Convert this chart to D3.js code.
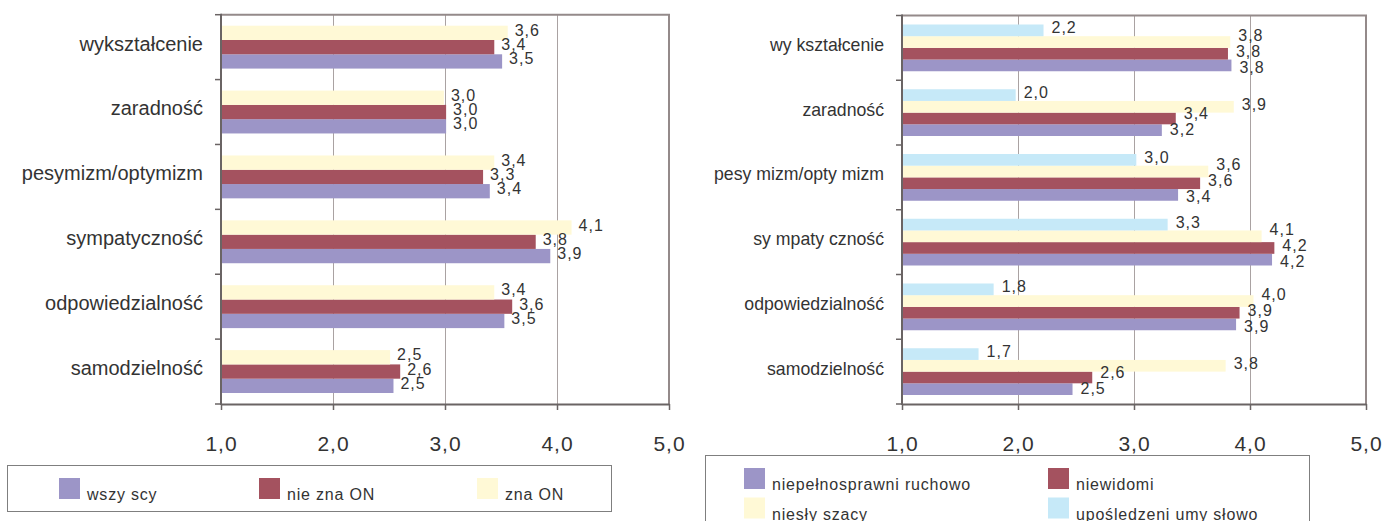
<!DOCTYPE html>
<html><head><meta charset="utf-8">
<script src="https://cdn.jsdelivr.net/npm/d3@7"></script>
<style>
body{margin:0;background:#fff}
svg{display:block}
text{font-family:"Liberation Sans",Arial,Helvetica,sans-serif;fill:#333}
</style>
</head><body>
<svg id="c" width="1387" height="521"></svg>
<script>
// ---------- data ----------
const categoriesLeft = ["wykształcenie","zaradność","pesymizm/optymizm","sympatyczność","odpowiedzialność","samodzielność"];
const seriesLeft = ["wszy scy","nie zna ON","zna ON"];
const wszyscy  = [3.51, 3.01, 3.40, 3.94, 3.53, 2.54];
const nieZnaON = [3.44, 3.01, 3.34, 3.81, 3.60, 2.60];
const znaON    = [3.56, 2.99, 3.44, 4.13, 3.44, 2.51];

const categoriesRight = ["wy kształcenie","zaradność","pesy mizm/opty mizm","sy mpaty czność","odpowiedzialność","samodzielność"];
const seriesRight = ["niepełnosprawni ruchowo","niewidomi","niesły szacy","upośledzeni umy słowo"];
const ruchowo     = [3.84, 3.24, 3.38, 4.19, 3.88, 2.47];
const niewidomi   = [3.81, 3.36, 3.57, 4.21, 3.91, 2.64];
const nieslyszacy = [3.83, 3.86, 3.64, 4.10, 4.03, 3.79];
const umyslowo    = [2.22, 1.98, 3.02, 3.29, 1.79, 1.66];

const xTicks = [1, 2, 3, 4, 5];
const xTickLabels = ["1,0", "2,0", "3,0", "4,0", "5,0"];
const colors = ["#9c95c7", "#a4525f", "#fff9d6", "#c6e9f8"];

const fmt = v => d3.format(".1f")(v).replace(".", ",");
const svg = d3.select("#c");

function drawChart(cfg) {
  const g = svg.append("g");
  const x = d3.scaleLinear().domain([1, 5]).range([cfg.x0, cfg.x1]);
  const y = d3.scaleBand().domain(cfg.categories).range([cfg.y0, cfg.y1]);
  const order = cfg.values.map((v, i) => i).reverse(); // top-to-bottom in each group
  const inner = d3.scaleBand().domain(order).range([0, y.bandwidth()]).paddingInner(0).paddingOuter(0.77);

  // gridlines
  g.selectAll(".grid").data(xTicks.filter(t => t > 1 && t < 5)).join("line")
    .attr("x1", d => Math.round(x(d)) + 0.5).attr("x2", d => Math.round(x(d)) + 0.5)
    .attr("y1", cfg.y0).attr("y2", cfg.y1)
    .attr("stroke", "#aaa2a2").attr("stroke-width", 1);

  // bars
  const bars = [];
  cfg.categories.forEach((c, ci) => {
    cfg.values.forEach((arr, si) => {
      bars.push({c, ci, si, v: arr[ci]});
    });
  });
  g.selectAll(".bar").data(bars).join("rect")
    .attr("x", x(1)).attr("y", d => y(d.c) + inner(d.si))
    .attr("width", d => x(d.v) - x(1)).attr("height", inner.bandwidth())
    .attr("fill", d => colors[d.si]);

  // value labels with simple overlap relaxation
  const labels = bars.map(d => ({
    ...d,
    lx: x(d.v) + cfg.labelGap,
    by: y(d.c) + inner(d.si) + inner.bandwidth() / 2 + 3,
    w: 26
  }));
  cfg.categories.forEach(c => {
    const ls = labels.filter(l => l.c === c).sort((a, b) => a.by - b.by);
    for (let it = 0; it < 60; it++) {
      for (let i = 0; i < ls.length; i++) for (let j = i + 1; j < ls.length; j++) {
        const a = ls[i], b = ls[j];
        const xo = a.lx < b.lx + b.w && b.lx < a.lx + a.w;
        const dy = b.by - a.by;
        if (xo && dy < cfg.minGap) {
          const push = (cfg.minGap - dy) / 2;
          a.by -= push; b.by += push;
        }
      }
    }
  });
  g.selectAll(".val").data(labels).join("text")
    .attr("x", d => d.lx).attr("y", d => d.by)
    .style("font-size", "16px").style("letter-spacing", "1px")
    .text(d => fmt(d.v));

  // top & right border
  g.append("path")
    .attr("d", `M${cfg.x0},${cfg.y0}H${cfg.x1}V${cfg.y1}`)
    .attr("fill", "none").attr("stroke", "#948a8a").attr("stroke-width", 2);

  // left category axis
  const bounds = cfg.categories.map(c => y(c)).concat([cfg.y1]);
  g.append("line").attr("x1", cfg.x0).attr("x2", cfg.x0).attr("y1", cfg.y0 - 1).attr("y2", cfg.y1 + 1)
    .attr("stroke", "#6a6464").attr("stroke-width", 2);
  g.selectAll(".ctick").data(bounds).join("line")
    .attr("x1", cfg.x0 - 6).attr("x2", cfg.x0).attr("y1", d => d).attr("y2", d => d)
    .attr("stroke", "#6a6464").attr("stroke-width", 1.5);
  g.selectAll(".cat").data(cfg.categories).join("text")
    .attr("x", cfg.x0 - 18).attr("y", d => y(d) + y.bandwidth() / 2 + cfg.catFont * 0.17)
    .attr("text-anchor", "end").style("font-size", cfg.catFont + "px")
    .text(d => d);

  // bottom value axis
  const ax = g.append("g").attr("transform", `translate(0,${cfg.y1})`)
    .call(d3.axisBottom(x).tickValues(xTicks).tickFormat((d, i) => xTickLabels[i])
      .tickSize(6).tickSizeOuter(0).tickPadding(26));
  ax.select(".domain").attr("stroke", "#6a6464").attr("stroke-width", 2);
  ax.selectAll(".tick line").attr("stroke", "#6a6464").attr("stroke-width", 1.5);
  ax.selectAll(".tick text").attr("fill", "#333").style("font-size", "21px")
    .style("letter-spacing", "1px").style("font-family", '"Liberation Sans",Arial,sans-serif');

  // legend
  const lg = svg.append("g");
  lg.append("rect").attr("x", cfg.legend.x + 0.5).attr("y", cfg.legend.y + 0.5)
    .attr("width", cfg.legend.w).attr("height", cfg.legend.h)
    .attr("fill", "none").attr("stroke", "#7f7f7f").attr("stroke-width", 1);
  const items = cfg.series.map((s, i) => ({s, i}));
  const it = lg.selectAll(".li").data(items).join("g")
    .attr("transform", d => `translate(${cfg.legend.itemX[d.i % cfg.legend.cols]},${cfg.legend.itemY[Math.floor(d.i / cfg.legend.cols)]})`);
  it.append("rect").attr("width", 21).attr("height", 21).attr("fill", d => colors[d.i]);
  it.append("text").attr("x", 28).attr("y", 22)
    .style("font-size", "16px").style("letter-spacing", "0.8px").text(d => d.s);
}

drawChart({
  categories: categoriesLeft, series: seriesLeft, values: [wszyscy, nieZnaON, znaON],
  x0: 221, x1: 669, y0: 14.7, y1: 404, catFont: 20, labelGap: 7, minGap: 14,
  legend: {x: 7, y: 465, w: 604, h: 46, cols: 3, itemX: [59, 259, 477], itemY: [478]}
});
drawChart({
  categories: categoriesRight, series: seriesRight, values: [ruchowo, niewidomi, nieslyszacy, umyslowo],
  x0: 902, x1: 1366, y0: 15.5, y1: 404, catFont: 17.7, labelGap: 8, minGap: 16,
  legend: {x: 705, y: 455, w: 604, h: 100, cols: 2, itemX: [744, 1048], itemY: [468, 497.5]}
});
</script>
</body></html>
